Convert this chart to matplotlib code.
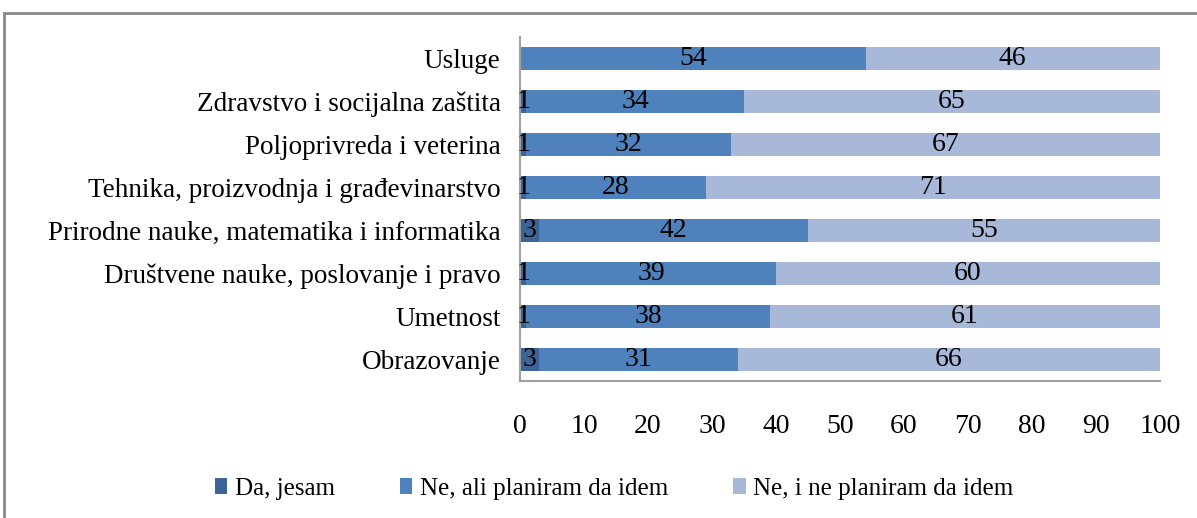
import matplotlib.pyplot as plt
from matplotlib.patches import Rectangle
import numpy as np

# --- Data ---
categories = ['Usluge', 'Zdravstvo i socijalna zaštita', 'Poljoprivreda i veterina',
              'Tehnika, proizvodnja i građevinarstvo',
              'Prirodne nauke, matematika i informatika',
              'Društvene nauke, poslovanje i pravo', 'Umetnost', 'Obrazovanje']
da_jesam = [0, 1, 1, 1, 3, 1, 1, 3]
ne_planiram_da = [54, 34, 32, 28, 42, 39, 38, 31]
ne_ne_planiram = [46, 65, 67, 71, 55, 60, 61, 66]
series_names = ['Da, jesam', 'Ne, ali planiram da idem', 'Ne, i ne planiram da idem']
colors = ['#3C6497', '#4F81BD', '#A8B8D8']

plt.rcParams['font.family'] = ['Liberation Serif', 'DejaVu Serif']

fig = plt.figure(figsize=(11.97, 5.18), dpi=100)
ax = fig.add_axes([520/1197, 1 - 381/518, 640/1197, 344/518])

y = np.arange(len(categories))[::-1]
left = np.zeros(len(categories))
for vals, name, col in zip([da_jesam, ne_planiram_da, ne_ne_planiram], series_names, colors):
    vals = np.array(vals, dtype=float)
    ax.barh(y, vals, left=left, height=0.55, color=col, label=name)
    for yi, l, v in zip(y, left, vals):
        if v > 0:
            ax.text(l + v / 2, yi, f'{int(v)}', ha='center', va='center', fontsize=20, color='black')
    left += vals

ax.set_xlim(0, 100)
ax.set_ylim(-0.5, len(categories) - 0.5)
ax.set_xticks(range(0, 101, 10))
ax.set_yticks(y)
ax.set_yticklabels(categories)
ax.tick_params(axis='both', length=0, labelsize=19.5)
ax.tick_params(axis='x', pad=24, labelsize=20)
ax.tick_params(axis='y', pad=14)
for s in ['top', 'right']:
    ax.spines[s].set_visible(False)
for s in ['left', 'bottom']:
    ax.spines[s].set_color('#A0A0A0')
    ax.spines[s].set_linewidth(1.5)

ax.legend(loc='center', bbox_to_anchor=(614/1197, 1 - 489/518), bbox_transform=fig.transFigure,
          ncol=3, frameon=False, fontsize=18, handlelength=0.5, handleheight=0.6,
          handletextpad=0.3, columnspacing=2.6)

# outer chart border (partly cut off in the original)
fig.patches.append(Rectangle((4/1197, -0.05), 1.1, 1 - 13/518 + 0.05, transform=fig.transFigure,
                             fill=False, edgecolor='#888888', linewidth=2, clip_on=False))

plt.savefig('out.png', dpi=100)
